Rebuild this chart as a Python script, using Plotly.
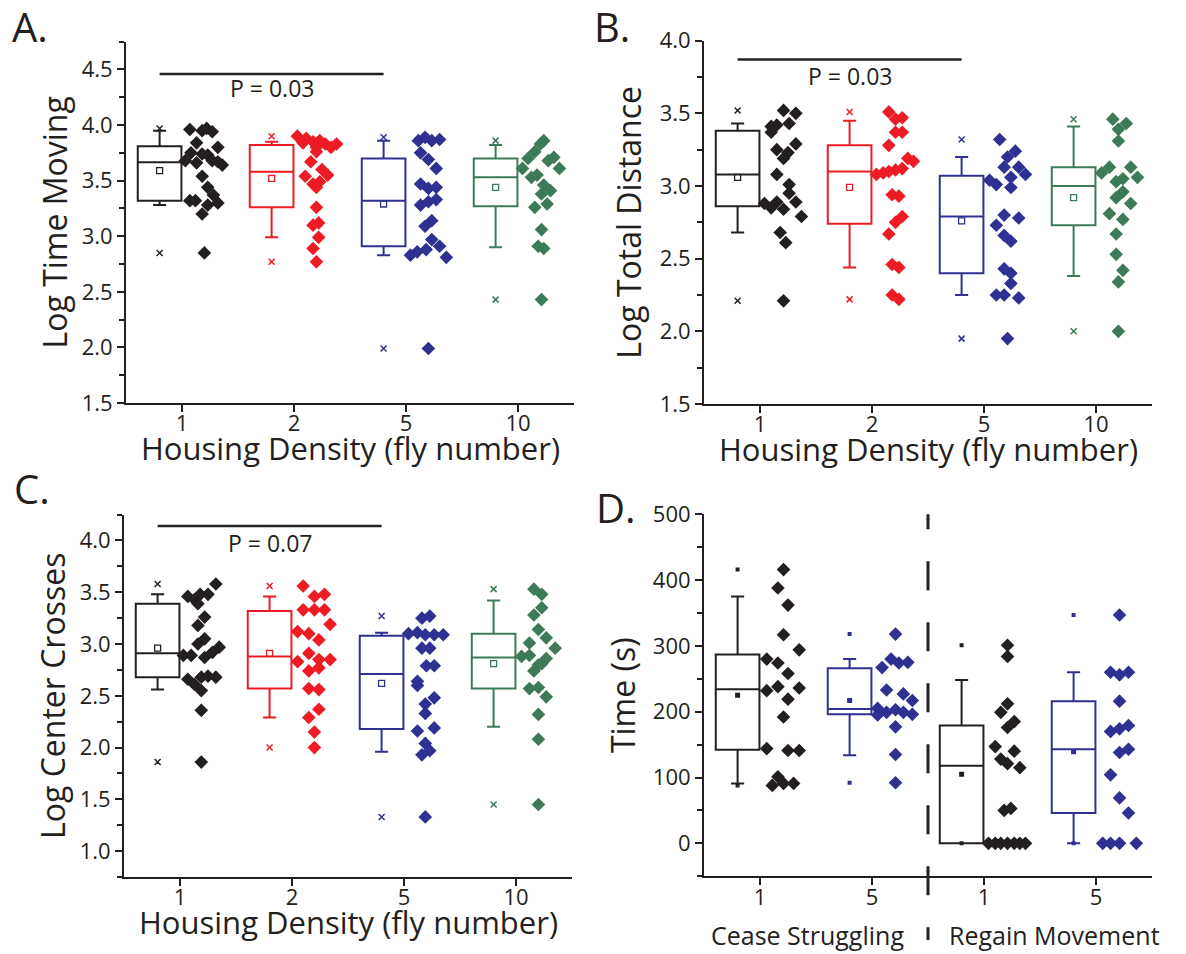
import plotly.graph_objects as go

W, H = 1186, 954
FONT = "Open Sans"
INK = "#231f20"
COLORS = [INK, "#ed1c24", "#2e3192", "#3d7a57"]
DENSITY_LABELS = ["1", "2", "5", "10"]
X_TITLE = "Housing Density (fly number)"

# ---------------- Panel A: Log Time Moving ----------------
A_1 = [3.96, 3.95, 3.97, 3.94, 3.84, 3.80, 3.75, 3.74, 3.73, 3.68, 3.66, 3.68, 3.67, 3.64,
       3.54, 3.44, 3.37, 3.30, 3.28, 3.32, 3.32, 3.20, 2.85]
A_1_dx = [0.07, 0.18, 0.22, 0.27, 0.13, 0.32, 0.08, 0.18, 0.23, 0.03, 0.13, 0.27, 0.32, 0.36,
          0.18, 0.23, 0.28, 0.32, 0.23, 0.07, 0.12, 0.18, 0.20]
A_2 = [3.90, 3.88, 3.84, 3.85, 3.86, 3.80, 3.83, 3.80, 3.83, 3.76, 3.67, 3.60, 3.54, 3.55,
       3.47, 3.49, 3.44, 3.26, 3.10, 3.12, 2.99, 2.89, 2.77]
A_2_dx = [0.03, 0.11, 0.08, 0.17, 0.23, 0.20, 0.28, 0.33, 0.38, 0.20, 0.15, 0.25, 0.10, 0.30,
          0.17, 0.23, 0.20, 0.20, 0.17, 0.22, 0.22, 0.17, 0.20]
A_5 = [3.86, 3.89, 3.86, 3.87, 3.75, 3.69, 3.61, 3.47, 3.43, 3.44, 3.28, 3.31, 3.33, 3.14,
       3.09, 2.97, 2.91, 2.83, 2.86, 2.88, 2.81, 1.99]
A_5_dx = [0.11, 0.17, 0.23, 0.30, 0.13, 0.20, 0.27, 0.13, 0.20, 0.27, 0.13, 0.20, 0.27, 0.23,
          0.17, 0.23, 0.30, 0.04, 0.10, 0.18, 0.36, 0.20]
A_10 = [3.86, 3.83, 3.76, 3.70, 3.71, 3.68, 3.61, 3.61, 3.55, 3.53, 3.46, 3.41, 3.38, 3.29,
        3.26, 3.06, 2.91, 2.89, 2.43]
A_10_dx = [0.23, 0.20, 0.15, 0.09, 0.32, 0.27, 0.04, 0.37, 0.17, 0.12, 0.23, 0.29, 0.21, 0.26,
           0.15, 0.21, 0.18, 0.23, 0.21]
A_q1 = [3.32, 3.26, 2.91, 3.27]
A_med = [3.665, 3.58, 3.32, 3.53]
A_q3 = [3.81, 3.82, 3.70, 3.70]
A_lo = [3.28, 2.99, 2.83, 2.90]
A_hi = [3.95, 3.85, 3.86, 3.82]
A_mean = [3.59, 3.52, 3.29, 3.44]
A_p_text = "P = 0.03"
A_p_level = 4.46

# ---------------- Panel B: Log Total Distance ----------------
B_1 = [3.52, 3.50, 3.41, 3.42, 3.37, 3.43, 3.29, 3.25, 3.23, 3.19, 3.08, 3.01, 2.95, 2.89,
       2.88, 2.85, 2.89, 2.84, 2.79, 2.68, 2.61, 2.21]
B_1_dx = [0.21, 0.32, 0.10, 0.15, 0.10, 0.26, 0.32, 0.15, 0.25, 0.21, 0.15, 0.26, 0.26, 0.32,
          0.04, 0.10, 0.15, 0.21, 0.37, 0.18, 0.23, 0.21]
B_2 = [3.51, 3.46, 3.47, 3.37, 3.37, 3.28, 3.19, 3.17, 3.08, 3.09, 3.10, 3.11, 3.12, 2.94,
       2.93, 2.79, 2.75, 2.67, 2.46, 2.44, 2.25, 2.22]
B_2_dx = [0.15, 0.21, 0.27, 0.21, 0.27, 0.15, 0.32, 0.37, 0.04, 0.10, 0.15, 0.21, 0.27, 0.18,
          0.24, 0.27, 0.21, 0.15, 0.18, 0.24, 0.18, 0.24]
B_5 = [3.32, 3.24, 3.20, 3.13, 3.13, 3.08, 3.06, 3.04, 3.01, 2.99, 2.80, 2.78, 2.73, 2.66,
       2.62, 2.43, 2.40, 2.33, 2.25, 2.25, 2.23, 1.95]
B_5_dx = [0.14, 0.28, 0.21, 0.18, 0.31, 0.37, 0.24, 0.05, 0.11, 0.24, 0.18, 0.31, 0.11, 0.18,
          0.24, 0.18, 0.24, 0.24, 0.11, 0.18, 0.31, 0.21]
B_10 = [3.46, 3.43, 3.39, 3.31, 3.09, 3.13, 3.13, 3.06, 3.03, 3.05, 2.96, 2.92, 2.88, 2.81,
        2.77, 2.67, 2.53, 2.42, 2.34, 2.00]
B_10_dx = [0.15, 0.27, 0.20, 0.20, 0.05, 0.12, 0.31, 0.37, 0.18, 0.24, 0.24, 0.18, 0.31, 0.12,
           0.24, 0.18, 0.18, 0.24, 0.20, 0.20]
B_q1 = [2.86, 2.74, 2.40, 2.73]
B_med = [3.08, 3.10, 2.79, 3.00]
B_q3 = [3.38, 3.28, 3.07, 3.13]
B_lo = [2.68, 2.44, 2.25, 2.38]
B_hi = [3.43, 3.45, 3.20, 3.41]
B_mean = [3.06, 2.99, 2.76, 2.92]
B_p_text = "P = 0.03"
B_p_level = 3.87

# ---------------- Panel C: Log Center Crosses ----------------
C_1 = [3.58, 3.46, 3.43, 3.39, 3.48, 3.48, 3.26, 3.18, 3.05, 3.00, 2.97, 2.92, 2.87, 2.89,
       2.89, 2.66, 2.68, 2.69, 2.68, 2.61, 2.55, 2.36, 1.86]
C_1_dx = [0.32, 0.07, 0.13, 0.16, 0.18, 0.25, 0.22, 0.16, 0.22, 0.16, 0.35, 0.29, 0.22, 0.03,
          0.10, 0.07, 0.19, 0.25, 0.32, 0.13, 0.19, 0.19, 0.19]
C_2 = [3.56, 3.46, 3.48, 3.33, 3.33, 3.33, 3.19, 3.12, 3.10, 3.04, 2.91, 2.83, 2.85, 2.85,
       2.74, 2.77, 2.57, 2.56, 2.37, 2.29, 2.15, 2.00]
C_2_dx = [0.10, 0.20, 0.29, 0.10, 0.20, 0.29, 0.34, 0.05, 0.15, 0.24, 0.15, 0.05, 0.24, 0.34,
          0.15, 0.24, 0.15, 0.24, 0.24, 0.15, 0.20, 0.20]
C_5 = [3.25, 3.27, 3.10, 3.11, 3.09, 3.09, 3.09, 2.96, 2.96, 2.79, 2.79, 2.64, 2.60, 2.48,
       2.42, 2.33, 2.16, 2.19, 2.04, 1.97, 1.93, 1.33]
C_5_dx = [0.16, 0.23, 0.04, 0.12, 0.19, 0.27, 0.35, 0.16, 0.23, 0.20, 0.27, 0.12, 0.12, 0.27,
          0.19, 0.19, 0.12, 0.27, 0.19, 0.23, 0.16, 0.19]
C_10 = [3.53, 3.48, 3.35, 3.28, 3.14, 3.06, 3.01, 2.96, 2.88, 2.89, 2.86, 2.81, 2.80, 2.74,
        2.57, 2.58, 2.49, 2.32, 2.08, 1.45]
C_10_dx = [0.16, 0.23, 0.23, 0.16, 0.20, 0.27, 0.12, 0.35, 0.05, 0.12, 0.27, 0.23, 0.20, 0.16,
           0.12, 0.20, 0.27, 0.20, 0.20, 0.20]
C_q1 = [2.68, 2.57, 2.18, 2.57]
C_med = [2.91, 2.88, 2.71, 2.87]
C_q3 = [3.39, 3.32, 3.08, 3.10]
C_lo = [2.56, 2.29, 1.96, 2.20]
C_hi = [3.48, 3.46, 3.11, 3.42]
C_mean = [2.96, 2.91, 2.62, 2.81]
C_p_text = "P = 0.07"
C_p_level = 4.14

# ---------------- Panel D: Time (s) ----------------
D_LABELS = ["1", "5", "1", "5"]
D_GROUPS = ["Cease Struggling", "Regain Movement"]
D_cease_1 = [416, 388, 362, 317, 294, 280, 274, 258, 232, 238, 236, 219, 192, 144, 141, 141,
             101, 88, 91, 91]
D_cease_1_dx = [0.21, 0.16, 0.25, 0.21, 0.35, 0.06, 0.16, 0.25, 0.06, 0.16, 0.35, 0.25, 0.21,
                0.06, 0.25, 0.35, 0.16, 0.11, 0.21, 0.30]
D_cease_5 = [318, 280, 274, 275, 267, 233, 227, 217, 205, 199, 203, 199, 196, 195, 177, 135, 92]
D_cease_5_dx = [0.21, 0.17, 0.24, 0.32, 0.09, 0.13, 0.28, 0.36, 0.05, 0.13, 0.21, 0.28, 0.36,
                0.05, 0.21, 0.21, 0.21]
D_regain_1 = [301, 284, 212, 199, 185, 176, 147, 140, 128, 121, 115, 50, 53, 0, 0, 0, 0, 0, 0, 0]
D_regain_1_dx = [0.21, 0.21, 0.21, 0.15, 0.27, 0.21, 0.10, 0.27, 0.15, 0.21, 0.32, 0.18, 0.24,
                 0.04, 0.10, 0.15, 0.21, 0.27, 0.32, 0.37]
D_regain_5 = [347, 260, 256, 260, 216, 170, 174, 179, 138, 143, 104, 69, 46, 0, 0, 0, 0]
D_regain_5_dx = [0.21, 0.13, 0.21, 0.29, 0.21, 0.13, 0.21, 0.29, 0.21, 0.29, 0.13, 0.21, 0.29,
                 0.06, 0.13, 0.21, 0.36]
D_q1 = [142, 196, 0, 46]
D_med = [234, 204, 118, 143]
D_q3 = [287, 266, 179, 216]
D_lo = [91, 134, 0, 0]
D_hi = [375, 280, 248, 260]
D_mean = [225, 217, 105, 139]

# ---------------- layout geometry (pixels) ----------------
BOX_SHIFT = -0.2
BOX_W = 0.39


def fx(px):
    return px / W


def fy(py):
    return 1 - py / H


fig = go.Figure()


def add_group(xa, ya, idx, color, vals, dx, q1, med, q3, lo, hi, mean, filled_marks):
    xb = idx + BOX_SHIFT
    fig.add_trace(go.Box(
        x=[xb], q1=[q1], median=[med], q3=[q3], lowerfence=[lo], upperfence=[hi],
        width=BOX_W, whiskerwidth=0.3, line=dict(color=color, width=2),
        fillcolor="rgba(0,0,0,0)", boxpoints=False, xaxis=xa, yaxis=ya,
        showlegend=False, hoverinfo="skip"))
    if filled_marks:
        ext_marker = dict(symbol="square", size=4, color=color)
        mean_marker = dict(symbol="square", size=5, color=color)
    else:
        ext_marker = dict(symbol="x-thin-open", size=6, color=color,
                          line=dict(color=color, width=1.5))
        mean_marker = dict(symbol="square-open", size=6, color=color,
                           line=dict(color=color, width=1.3))
    fig.add_trace(go.Scatter(x=[xb], y=[mean], mode="markers", marker=mean_marker,
                             xaxis=xa, yaxis=ya, showlegend=False, hoverinfo="skip"))
    fig.add_trace(go.Scatter(x=[xb, xb], y=[min(vals), max(vals)], mode="markers",
                             marker=ext_marker, xaxis=xa, yaxis=ya, showlegend=False,
                             hoverinfo="skip"))
    fig.add_trace(go.Scatter(x=[idx + d for d in dx], y=vals, mode="markers",
                             marker=dict(symbol="diamond", size=10.5, color=color),
                             xaxis=xa, yaxis=ya, showlegend=False))


def add_pbar(xa, ya, level, text, text_level):
    fig.add_trace(go.Scatter(x=[BOX_SHIFT, 2 + BOX_SHIFT], y=[level, level], mode="lines",
                             line=dict(color=INK, width=2.5), xaxis=xa, yaxis=ya,
                             showlegend=False, hoverinfo="skip"))
    fig.add_annotation(x=1 + BOX_SHIFT, y=text_level, xref=xa, yref=ya, text=text,
                       showarrow=False, yanchor="middle",
                       font=dict(family=FONT, size=23, color=INK))


panelA = [A_1, A_2, A_5, A_10]
panelA_dx = [A_1_dx, A_2_dx, A_5_dx, A_10_dx]
for i in range(4):
    add_group("x", "y", i, COLORS[i], panelA[i], panelA_dx[i], A_q1[i], A_med[i], A_q3[i],
              A_lo[i], A_hi[i], A_mean[i], False)
add_pbar("x", "y", A_p_level, A_p_text, 4.33)

panelB = [B_1, B_2, B_5, B_10]
panelB_dx = [B_1_dx, B_2_dx, B_5_dx, B_10_dx]
for i in range(4):
    add_group("x2", "y2", i, COLORS[i], panelB[i], panelB_dx[i], B_q1[i], B_med[i], B_q3[i],
              B_lo[i], B_hi[i], B_mean[i], False)
add_pbar("x2", "y2", B_p_level, B_p_text, 3.76)

panelC = [C_1, C_2, C_5, C_10]
panelC_dx = [C_1_dx, C_2_dx, C_5_dx, C_10_dx]
for i in range(4):
    add_group("x3", "y3", i, COLORS[i], panelC[i], panelC_dx[i], C_q1[i], C_med[i], C_q3[i],
              C_lo[i], C_hi[i], C_mean[i], False)
add_pbar("x3", "y3", C_p_level, C_p_text, 3.98)

panelD = [D_cease_1, D_cease_5, D_regain_1, D_regain_5]
panelD_dx = [D_cease_1_dx, D_cease_5_dx, D_regain_1_dx, D_regain_5_dx]
D_COLORS = [COLORS[0], COLORS[2], COLORS[0], COLORS[2]]
for i in range(4):
    add_group("x4", "y4", i, D_COLORS[i], panelD[i], panelD_dx[i], D_q1[i], D_med[i], D_q3[i],
              D_lo[i], D_hi[i], D_mean[i], True)

axis_common = dict(showline=True, linecolor=INK, linewidth=2, ticks="outside", ticklen=7,
                   tickwidth=2, tickcolor=INK, showgrid=False, zeroline=False,
                   tickfont=dict(family=FONT, size=22, color=INK), type="linear",
                   fixedrange=True, automargin=False)
title_font = dict(family=FONT, size=32, color=INK)


def xaxis_def(x0, x1, anchor, labels):
    return dict(axis_common, domain=[fx(x0), fx(x1)], anchor=anchor, range=[-0.5, 3.5],
                tickmode="array", tickvals=[0, 1, 2, 3], ticktext=labels,
                ticklabelstandoff=-7)


def yaxis_def(y_top, y_bot, anchor, rng, tick0, dtick, mdtick, fmt, title, standoff):
    return dict(axis_common, domain=[fy(y_bot), fy(y_top)], anchor=anchor, range=rng,
                tick0=tick0, dtick=dtick, tickformat=fmt,
                minor=dict(dtick=mdtick, tick0=tick0, ticks="outside", ticklen=5, tickwidth=2,
                           tickcolor=INK, showgrid=False),
                title=dict(text=title, font=title_font, standoff=standoff))


fig.update_layout(
    width=W, height=H, margin=dict(l=0, r=0, t=0, b=0, pad=0), autosize=False,
    paper_bgcolor="white", plot_bgcolor="white", showlegend=False, boxmode="overlay",
    font=dict(family=FONT, color=INK),
    xaxis=xaxis_def(126, 574, "y", DENSITY_LABELS),
    yaxis=yaxis_def(41.7, 403, "x", [1.5, 4.75], 1.5, 0.5, 0.25, ".1f", "Log Time Moving", 4),
    xaxis2=xaxis_def(704, 1152, "y2", DENSITY_LABELS),
    yaxis2=yaxis_def(40.7, 404, "x2", [1.5, 4.0], 1.5, 0.5, 0.25, ".1f", "Log Total Distance", 8),
    xaxis3=xaxis_def(124, 572, "y3", DENSITY_LABELS),
    yaxis3=yaxis_def(514.6, 877, "x3", [0.75, 4.25], 1.0, 0.5, 0.25, ".1f", "Log Center Crosses", 4),
    xaxis4=xaxis_def(704, 1152, "y4", D_LABELS),
    yaxis4=yaxis_def(514.3, 876.2, "x4", [-50, 500], 0, 100, 50, "d", "Time (s)", 8),
)

# x-axis titles of panels A-C
for xa, ybot in [("x", 403), ("x2", 404), ("x3", 877)]:
    fig.add_annotation(x=0.5, y=fy(ybot + 45), xref=xa + " domain", yref="paper", text=X_TITLE,
                       xanchor="center", yanchor="middle", showarrow=False,
                       font=dict(family=FONT, size=31, color=INK))

# dashed divider in panel D
fig.add_shape(type="line", xref="x4 domain", yref="y4 domain", x0=0.5, x1=0.5, y0=1.0,
              y1=-0.176,
              line=dict(color=INK, width=3,
                        dash="15px,32px,29px,32px,29px,32px,29px,32px,29px,32px,29px,32px,29px,32px,29px,40px"))

# group labels for panel D
fig.add_annotation(x=0.42, y=fy(935), xref="x4", yref="paper", text=D_GROUPS[0],
                   xanchor="center", yanchor="middle", showarrow=False,
                   font=dict(family=FONT, size=25, color=INK))
fig.add_annotation(x=2.63, y=fy(935), xref="x4", yref="paper", text=D_GROUPS[1],
                   xanchor="center", yanchor="middle", showarrow=False,
                   font=dict(family=FONT, size=25, color=INK))

# panel letters
for letter, px, py in [("A.", 10, 27), ("B.", 592, 27), ("C.", 12, 488), ("D.", 594, 508)]:
    fig.add_annotation(x=fx(px), y=fy(py), xref="paper", yref="paper", text=letter,
                       xanchor="left", yanchor="middle", showarrow=False,
                       font=dict(family=FONT, size=40, color=INK))

fig.write_html("out.html")
